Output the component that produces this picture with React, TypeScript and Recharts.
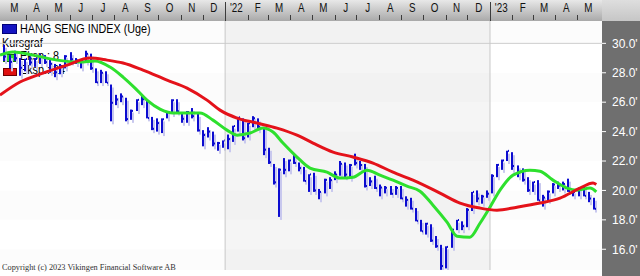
import React from 'react'
import { ComposedChart, Bar, Line, XAxis, YAxis, ReferenceArea, ReferenceLine } from 'recharts'

if (typeof document !== 'undefined') document.body.style.margin = '0'

const FONT = "'Liberation Sans', Arial, sans-serif"

// weekly bars, Hang Seng (thousands), week 0 = first week of March 2021
const opens = [
  29.45, 29.0, 28.8, 29.0, 28.4, 28.9, 28.7, 29.0, 29.1, 28.7,
  28.5, 28.1, 28.5, 29.1, 28.9, 28.8, 28.8, 29.3, 28.2, 27.5,
  28.0, 27.0, 26.0, 26.2, 26.3, 25.0, 25.5, 26.1, 26.1, 24.9,
  24.2, 24.6, 24.9, 25.4, 26.1, 25.3, 24.9, 25.3, 25.0, 24.0,
  23.8, 24.0, 23.2, 23.2, 23.4, 23.5, 24.4, 24.9, 23.6, 24.6,
  24.9, 24.2, 22.8, 21.8, 20.5, 21.4, 21.4, 22.0, 21.8, 21.5,
  20.6, 21.1, 20.0, 19.9, 20.7, 20.7, 21.1, 21.8, 21.0, 21.7,
  21.8, 21.7, 20.3, 20.6, 20.1, 20.2, 20.2, 19.7, 20.1, 19.4,
  19.4, 18.7, 17.9, 17.3, 17.7, 16.6, 16.2, 14.9, 16.2, 17.4,
  17.9, 17.5, 18.7, 19.9, 19.4, 19.6, 19.9, 21.0, 21.7, 22.1,
  22.6, 21.6, 21.2, 20.7, 20.0, 20.6, 19.3, 19.5, 19.9, 20.4,
  20.3, 20.4, 19.9, 19.9, 20.0, 19.6, 19.4,
]
const highs = [
  29.9, 29.2, 29.5, 29.0, 28.95, 29.1, 29.0, 29.3, 29.2, 28.9,
  28.6, 28.6, 29.2, 29.4, 29.0, 28.9, 29.5, 29.3, 28.3, 28.2,
  28.1, 27.2, 26.5, 26.6, 26.3, 25.5, 26.2, 26.5, 26.2, 25.0,
  24.9, 24.9, 25.4, 26.2, 26.2, 25.3, 25.4, 25.6, 25.2, 24.1,
  24.3, 24.0, 23.3, 23.4, 23.8, 24.4, 25.0, 24.9, 24.6, 25.05,
  24.9, 24.3, 22.9, 21.8, 21.5, 22.2, 22.1, 22.5, 21.9, 21.6,
  21.1, 21.2, 20.1, 20.8, 20.9, 21.3, 22.0, 21.9, 21.8, 22.5,
  22.0, 21.8, 20.9, 21.0, 20.4, 20.3, 20.3, 20.3, 20.3, 19.6,
  19.5, 18.8, 18.0, 17.8, 17.7, 16.9, 16.3, 16.2, 17.4, 18.0,
  17.9, 18.8, 19.9, 20.0, 19.7, 20.0, 21.1, 21.8, 22.1, 22.7,
  22.6, 21.7, 21.5, 20.9, 20.6, 20.7, 19.7, 20.0, 20.5, 20.6,
  20.6, 20.8, 20.0, 20.2, 20.3, 19.9, 19.5,
]
const lows = [
  28.8, 28.3, 28.8, 27.8, 28.1, 28.5, 28.4, 28.6, 28.6, 28.0,
  27.7, 27.9, 28.3, 28.7, 28.6, 28.3, 28.7, 28.2, 27.3, 27.3,
  27.3, 24.7, 25.8, 26.0, 24.7, 24.8, 25.4, 25.8, 24.9, 24.1,
  24.0, 23.9, 24.9, 25.2, 25.3, 24.6, 24.6, 24.9, 24.0, 23.0,
  23.6, 23.0, 22.7, 22.9, 22.8, 23.3, 24.0, 23.4, 23.6, 24.3,
  24.1, 22.4, 21.8, 20.4, 18.2, 21.1, 21.3, 21.8, 21.3, 20.6,
  19.9, 19.9, 19.4, 19.8, 20.1, 20.7, 21.0, 20.9, 20.8, 21.7,
  21.4, 20.2, 20.3, 20.1, 19.6, 19.8, 19.7, 19.7, 19.4, 18.9,
  18.7, 17.9, 17.2, 17.0, 16.5, 16.1, 14.6, 14.7, 16.1, 17.3,
  17.3, 17.5, 18.6, 19.2, 19.1, 19.5, 19.8, 20.9, 21.4, 22.0,
  21.4, 20.9, 20.6, 19.9, 19.9, 19.3, 18.9, 19.3, 19.8, 20.1,
  20.0, 19.9, 19.6, 19.6, 19.6, 19.2, 18.7,
]
const closes = [
  29.1, 28.74, 28.99, 28.34, 28.94, 28.7, 28.97, 29.08, 28.72, 28.61,
  28.03, 28.46, 29.12, 28.92, 28.84, 28.8, 29.29, 28.31, 27.34, 28.0,
  27.32, 25.96, 26.18, 26.39, 24.85, 25.41, 26.16, 26.2, 24.92, 24.19,
  24.58, 24.84, 25.33, 26.13, 25.38, 24.87, 25.33, 25.05, 24.08, 23.77,
  24.0, 23.19, 23.22, 23.4, 23.49, 24.38, 24.97, 23.55, 24.57, 24.91,
  24.33, 22.77, 21.91, 20.55, 21.41, 21.4, 22.04, 21.87, 21.52, 20.64,
  21.09, 20.0, 19.9, 20.72, 20.7, 21.08, 21.81, 21.08, 21.72, 21.86,
  21.73, 20.3, 20.61, 20.16, 20.2, 20.18, 19.77, 20.17, 19.45, 19.36,
  18.76, 17.93, 17.22, 17.74, 16.59, 16.21, 14.86, 16.16, 17.33, 17.99,
  17.57, 18.68, 19.9, 19.45, 19.59, 19.78, 20.99, 21.74, 22.04, 22.69,
  21.66, 21.19, 20.72, 20.01, 20.57, 19.32, 19.52, 19.92, 20.4, 20.33,
  20.44, 19.96, 19.89, 20.05, 19.63, 19.45, 18.75,
]

// exponential averages (week position, value)
const ema8Weeks = [
  -0.89, 1.67, 5.61, 10.33, 14.86, 17.81, 20.77, 23.33, 25.69, 28.05,
  30.61, 33.17, 35.93, 38.48, 41.04, 43.8, 45.77, 48.33, 50.89, 52.85,
  54.82, 57.58, 60.14, 63.48, 66.04, 68.6, 71.36, 73.92, 76.48, 79.23,
  81.79, 84.35, 87.11, 89.08, 91.63, 93.6, 95.57, 97.54, 100.1, 103.44,
  105.41, 107.97, 110.73, 112.7, 115.26, 116.5,
]
const ema8Values = [
  29.2, 29.41, 29.2, 28.86, 28.73, 28.8, 28.39, 27.71, 26.96, 26.14,
  25.53, 25.26, 25.26, 25.26, 24.78, 24.1, 23.76, 23.9, 24.24, 23.97,
  23.22, 22.27, 21.52, 21.24, 20.84, 20.9, 21.38, 21.04, 20.7, 20.29,
  19.95, 19.0, 17.84, 16.89, 16.82, 17.77, 18.86, 20.02, 21.04, 21.38,
  21.31, 20.7, 20.16, 20.02, 20.16, 19.9,
]
const ema24Weeks = [
  -0.89, 3.05, 7.58, 12.3, 16.83, 20.18, 23.33, 27.26, 31.99, 35.93,
  39.86, 42.42, 45.77, 49.7, 53.64, 57.58, 60.73, 64.67, 68.6, 72.54,
  76.48, 80.41, 85.73, 89.67, 93.6, 96.95, 100.89, 105.41, 109.35, 113.29,
  115.85, 116.5,
]
const ema24Values = [
  26.48, 27.37, 27.98, 28.52, 29.0, 28.86, 28.66, 28.18, 27.5, 26.96,
  26.14, 25.46, 24.92, 24.58, 24.24, 23.76, 23.22, 22.61, 22.27, 21.86,
  21.24, 20.7, 19.82, 19.14, 18.8, 18.66, 18.86, 19.14, 19.48, 20.16,
  20.5, 20.4,
]

// month labels from March 2021 to May 2023
const monthLabels = [
  'M', 'A', 'M', 'J', 'J', 'A', 'S', 'O', 'N', 'D',
  "'22", 'F', 'M', 'A', 'M', 'J', 'J', 'A', 'S', 'O', 'N', 'D',
  "'23", 'F', 'M', 'A', 'M',
]
const yTicks = [16, 18, 20, 22, 24, 26, 28, 30]
const shadedBands = [[30, 31.52], [26, 28], [22, 24], [18, 20], [14.59, 16]]

const X_DOMAIN = [-0.886, 117.62]
const Y_DOMAIN = [14.59, 31.52]

const bars = closes.map((c, i) => ({
  w: i,
  open: opens[i],
  high: highs[i],
  low: lows[i],
  close: c,
  range: [lows[i], highs[i]],
}))
const ema8 = ema8Weeks.map((w, i) => ({ w, v: ema8Values[i] }))
const ema24 = ema24Weeks.map((w, i) => ({ w, v: ema24Values[i] }))

// week position of a calendar date (week 0 centred on 3 March 2021)
const DAY = 86400000
const origin = Date.UTC(2021, 2, 3)
const weekOf = (month: number, day = 1) => (Date.UTC(2021, month, day) - origin) / (7 * DAY)

const topTicks: number[] = []
const tickKind = new Map<string, { kind: string; text?: string }>()
monthLabels.forEach((label, k) => {
  const start = weekOf(2 + k)
  const end = weekOf(3 + k)
  const mid = (start + end) / 2
  topTicks.push(mid)
  tickKind.set(mid.toFixed(4), { kind: 'label', text: label })
  if (k > 0) {
    topTicks.push(start)
    tickKind.set(start.toFixed(4), { kind: label.startsWith("'") ? 'year' : 'mark' })
  }
})
topTicks.sort((a, b) => a - b)
const yearStarts = [weekOf(12), weekOf(24)]

function TopTick(props: any) {
  const { x, payload } = props
  const info = tickKind.get(Number(payload.value).toFixed(4))
  if (!info) return null
  const px = Math.round(x) + 0.5
  if (info.kind === 'label') {
    return (
      <text
        transform={`translate(${x},12) scale(0.82,1)`}
        textAnchor="middle"
        fontSize={12}
        fontFamily={FONT}
        fill="#111"
      >
        {info.text}
      </text>
    )
  }
  if (info.kind === 'year') {
    return <line x1={px} x2={px} y1={2} y2={21} stroke="#3c3c3c" />
  }
  return <line x1={px} x2={px} y1={15} y2={20} stroke="#3c3c3c" />
}

// high-low bar with a close tick and a soft shadow
function OhlcShape(props: any) {
  const { x, y, width, height, payload } = props
  if (height == null || !payload) return null
  const cx = Math.round(x + width / 2)
  const k = height / (payload.high - payload.low || 1)
  const yc = y + (payload.high - payload.close) * k
  return (
    <g>
      <rect x={cx + 1} y={y + 3} width={2} height={height} fill="#c8c8ee" />
      <rect x={cx - 1} y={y} width={2} height={Math.max(height, 1)} fill="#0c0cd0" />
      <rect x={cx + 1} y={yc - 1} width={1} height={2} fill="#0c0cd0" />
    </g>
  )
}

const legendText: React.CSSProperties = {
  position: 'absolute',
  fontFamily: FONT,
  fontSize: 13,
  lineHeight: '13px',
  color: '#000',
  whiteSpace: 'nowrap',
  transform: 'scaleX(0.83)',
  transformOrigin: 'left top',
}

export default function App() {
  return (
    <div style={{ position: 'relative', width: 640, height: 276, background: '#fff', overflow: 'hidden' }}>
      {/* frame behind the chart */}
      <div style={{ position: 'absolute', left: 0, top: 0, width: 602, height: 21, background: 'linear-gradient(#e8e8e8, #a9a9a9)' }} />
      <div style={{ position: 'absolute', left: 602, top: 0, width: 38, height: 21, background: 'linear-gradient(#dedede, #c6c6c6)' }} />
      <div style={{ position: 'absolute', left: 602, top: 21, width: 38, height: 255, background: '#6f6f6f' }} />

      {/* legend */}
      <div style={{ position: 'absolute', left: 2, top: 24, width: 13, height: 8, background: '#1414c4', border: '1px solid #00007a' }} />
      <div style={{ ...legendText, left: 20, top: 22 }}>HANG SENG INDEX (Uge)</div>
      <div style={{ ...legendText, left: 2, top: 36 }}>Kursgraf</div>
      <div style={{ position: 'absolute', left: 3, top: 54, width: 12, height: 6, background: '#2ee02e', border: '1px solid #107010' }} />
      <div style={{ ...legendText, left: 20, top: 49 }}>Eksp.: 8</div>
      <div style={{ position: 'absolute', left: 3, top: 68, width: 12, height: 6, background: '#e01010', border: '1px solid #700000' }} />
      <div style={{ ...legendText, left: 20, top: 63 }}>Eksp.: 24</div>

      <div
        style={{
          position: 'absolute', left: 2, top: 263, fontFamily: "'Liberation Serif', serif", fontSize: 9,
          lineHeight: '9px', color: '#333', whiteSpace: 'nowrap', transform: 'scaleX(0.92)', transformOrigin: 'left top',
        }}
      >
        Copyright (c) 2023 Vikingen Financial Software AB
      </div>

      <div style={{ position: 'absolute', left: 0, top: 0 }}>
        <ComposedChart width={640} height={276} data={bars} margin={{ top: 0, right: 0, bottom: 6, left: 0 }}>
          <XAxis
            type="number"
            dataKey="w"
            orientation="top"
            height={21}
            domain={X_DOMAIN}
            allowDataOverflow
            ticks={topTicks}
            interval={0}
            tick={TopTick}
            tickLine={false}
            axisLine={false}
          />
          <YAxis
            type="number"
            orientation="right"
            width={38}
            domain={Y_DOMAIN}
            allowDataOverflow
            ticks={yTicks}
            interval={0}
            tickFormatter={(v: number) => v.toFixed(1) + "'"}
            tick={{ fill: '#fff', fontSize: 12, fontFamily: FONT }}
            tickLine={{ stroke: '#fff' }}
            tickSize={4}
            tickMargin={6}
            axisLine={false}
          />
          <ReferenceArea x1={yearStarts[0]} x2={yearStarts[1]} fill="#f5f5f5" fillOpacity={1} stroke="none" />
          {shadedBands.map(([a, b]) => (
            <ReferenceArea key={a} y1={a} y2={b} fill="#000" fillOpacity={0.012} stroke="none" />
          ))}
          <ReferenceLine y={30} stroke="#cdcdcd" />
          {yearStarts.map((w) => (
            <ReferenceLine key={w} x={w} stroke="#c8c8c8" />
          ))}
          <Bar dataKey="range" shape={OhlcShape} barSize={2} isAnimationActive={false} />
          <Line data={ema8} dataKey="v" type="monotone" stroke="#2ee02e" strokeWidth={3} dot={false} activeDot={false} isAnimationActive={false} />
          <Line data={ema24} dataKey="v" type="monotone" stroke="#e4121a" strokeWidth={3} dot={false} activeDot={false} isAnimationActive={false} />
        </ComposedChart>
      </div>
    </div>
  )
}
